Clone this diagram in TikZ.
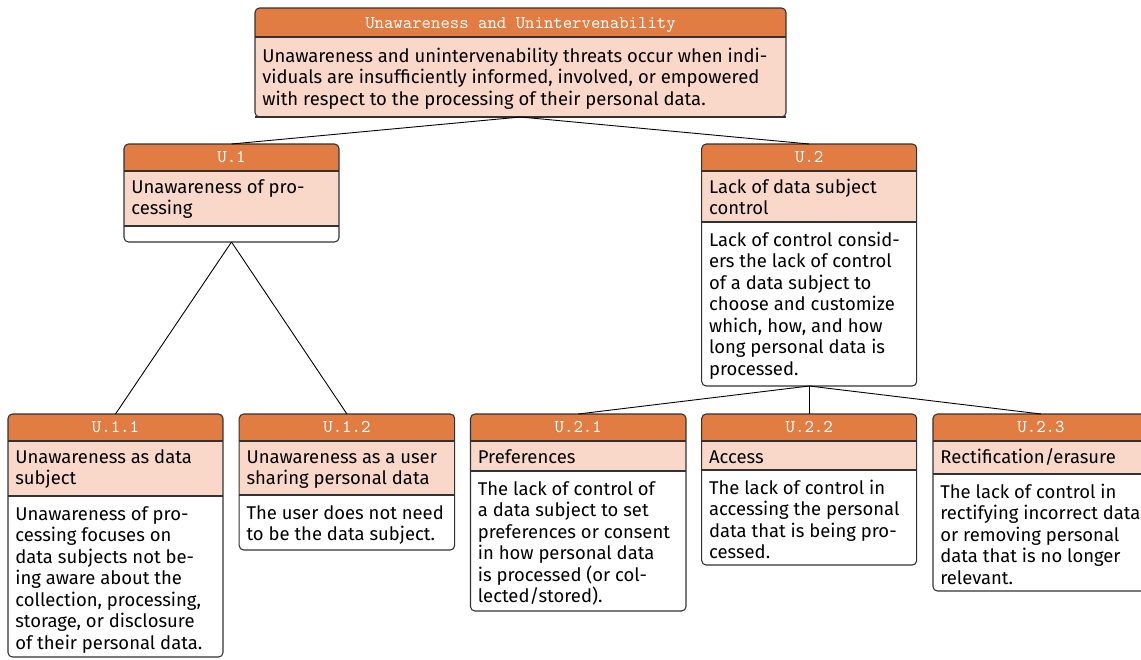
\documentclass[tikz,border=0pt]{standalone}
\usepackage{fontspec}
\setmainfont{Fira Sans}
\setmonofont{Latin Modern Mono}
\definecolor{orng}{RGB}{225,124,66}
\definecolor{lite}{RGB}{250,216,201}
\definecolor{border}{RGB}{50,50,50}
\def\u{0.558pt}
\def\rc{2.5pt}
\def\hdoff{7}
\def\ttoff{18.5}
\tikzset{
  frame/.style={draw=border, line width=0.6pt, rounded corners=\rc, inner sep=0pt, outer sep=0pt},
  sep/.style={draw=border, line width=0.6pt},
  ttl/.style={anchor=base, inner sep=0pt, text=white, font=\ttfamily\fontsize{10}{12}\selectfont},
  hd/.style={anchor=north west, inner sep=0pt, align=left, font=\fontsize{10.3}{12}\selectfont},
  conn/.style={draw=black, line width=0.5pt},
}
% #1 name #2 x #3 w #4 top #5 title bottom #6 head bottom #7 bottom #8 title #9 head
\newcommand\threat[9]{%
  \begin{scope}
    \clip[rounded corners=\rc] (#2,#4) rectangle ({#2+#3},#7);
    \fill[white] (#2,#4) rectangle ({#2+#3},#7);
    \fill[lite] (#2,#5) rectangle ({#2+#3},#6);
    \fill[orng] (#2,#4) rectangle ({#2+#3},#5);
  \end{scope}
  \draw[sep] (#2,#5) -- ({#2+#3},#5) (#2,#6) -- ({#2+#3},#6);
  \node[frame, minimum width={#3*\u}, minimum height={(#7-#4)*\u}, anchor=north west] (#1) at (#2,#4) {};
  \node[ttl] (#1-t) at ({#2+#3/2},{#4+\ttoff}) {#8};
  \node[hd] (#1-h) at ({#2+7},{#5+\hdoff}) {\strut #9};
}
\begin{document}
\begin{tikzpicture}[x=\u, y=-\u]
\useasboundingbox (0,0) rectangle (1141,659);
\clip (0,0) rectangle (1141,659);

\def\hdoff{10}\def\ttoff{20}
\threat{root}{255}{531}{8}{37}{117}{117}{Unawareness and Unintervenability}{Unawareness and unintervenability threats occur when indi-\\viduals are insufficiently informed, involved, or empowered\\with respect to the processing of their personal data.}
\def\hdoff{7}\def\ttoff{18.5}

\threat{u1}{124}{215}{144}{171}{226}{242}{U.1}{Unawareness of pro-\\cessing}

\threat{u2}{701.7}{215}{144}{171}{222}{386}{U.2}{Lack of data subject\\control}
\node[hd] (u2-b) at (708.7,231) {\strut Lack of control consid-\\ers the lack of control\\of a data subject to\\choose and customize\\which, how, and how\\long personal data is\\processed.};

\threat{u11}{8}{215}{414}{441}{496}{657}{U.1.1}{Unawareness as data\\subject}
\node[hd] (u11-b) at (15,505) {\strut Unawareness of pro-\\cessing focuses on\\data subjects not be-\\ing aware about the\\collection, processing,\\storage, or disclosure\\of their personal data.};

\threat{u12}{239.2}{215.5}{414}{441}{495}{550}{U.1.2}{Unawareness as a user\\sharing personal data}
\node[hd] (u12-b) at (246.2,504) {\strut The user does not need\\to be the data subject.};

\threat{u21}{470.5}{215.5}{414}{441}{471}{611}{U.2.1}{Preferences}
\node[hd] (u21-b) at (477.5,480) {\strut The lack of control of\\a data subject to set\\preferences or consent\\in how personal data\\is processed (or col-\\lected/stored).};

\threat{u22}{701.7}{215}{414}{441}{470}{565}{U.2.2}{Access}
\node[hd] (u22-b) at (708.7,479) {\strut The lack of control in\\accessing the personal\\data that is being pro-\\cessed.};

\threat{u23}{933}{216}{414}{441}{474}{591}{U.2.3}{Rectification/erasure}
\node[hd] (u23-b) at (940,483) {\strut The lack of control in\\rectifying incorrect data\\or removing personal\\data that is no longer\\relevant.};

\draw[conn] (root.south) -- (u1.north);
\draw[conn] (root.south) -- (u2.north);
\draw[conn] (u1.south) -- (u11.north);
\draw[conn] (u1.south) -- (u12.north);
\draw[conn] (u2.south) -- (u21.north);
\draw[conn] (u2.south) -- (u22.north);
\draw[conn] (u2.south) -- (u23.north);
\end{tikzpicture}
\end{document}
